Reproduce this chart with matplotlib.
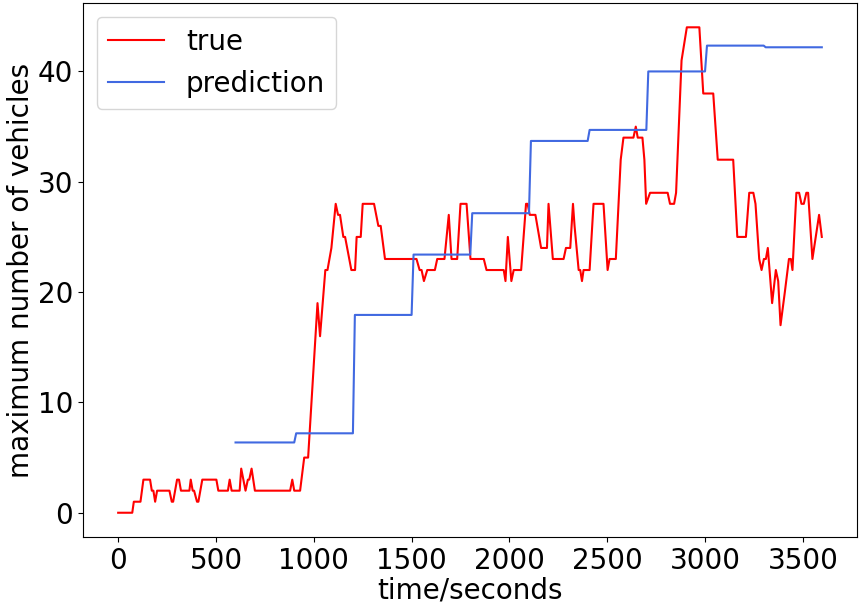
import numpy as np
import matplotlib
matplotlib.use("Agg")
import matplotlib.pyplot as plt

# true max number of vehicles (breakpoints)
true_t = [0, 72, 80, 114, 129, 163, 172, 180, 189, 199, 262, 274, 281, 301, 311,
          321, 364, 371, 381, 388, 403, 410, 430, 502, 512, 561, 570, 580, 621,
          629, 651, 663, 670, 682, 699, 879, 890, 900, 930, 951, 971,
          1019, 1032, 1059, 1070, 1090, 1112, 1124, 1134, 1151, 1160, 1192, 1211,
          1219, 1240, 1250, 1308, 1330, 1342, 1364, 1525, 1541, 1551, 1563, 1580,
          1619, 1631, 1668, 1690, 1704, 1733, 1750, 1781, 1801, 1869, 1883, 1971,
          1980, 1992, 2010, 2022, 2060, 2085, 2093, 2104, 2133, 2162, 2192, 2200,
          2222, 2277, 2289, 2311, 2325, 2333, 2354, 2362, 2371, 2379, 2410, 2430,
          2481, 2502, 2512, 2544, 2569, 2583, 2634, 2646, 2656, 2680, 2690, 2699,
          2719, 2809, 2821, 2842, 2852, 2880, 2907, 2971, 2991, 3042, 3065, 3144,
          3165, 3209, 3226, 3247, 3258, 3277, 3289, 3301, 3311, 3321, 3343, 3362,
          3374, 3386, 3408, 3429, 3439, 3447, 3467, 3481, 3493, 3505, 3518, 3527,
          3549, 3583, 3597]
true_v = [0, 0, 1, 1, 3, 3, 2, 2, 1, 2, 2, 1, 1, 3, 3,
          2, 2, 3, 2, 2, 1, 1, 3, 3, 2, 2, 3, 2, 2,
          4, 2, 3, 3, 4, 2, 2, 3, 2, 2, 5, 5,
          19, 16, 22, 22, 24, 28, 27, 27, 25, 25, 22, 22,
          25, 25, 28, 28, 26, 26, 23, 23, 22, 22, 21, 22,
          22, 23, 23, 27, 23, 23, 28, 28, 23, 23, 22, 22,
          21, 25, 21, 22, 22, 28, 28, 27, 27, 24, 24, 28,
          23, 23, 24, 24, 28, 26, 22, 22, 21, 22, 22, 28,
          28, 22, 23, 23, 32, 34, 34, 35, 34, 34, 32, 28,
          29, 29, 28, 28, 29, 41, 44, 44, 38, 38, 32, 32,
          25, 25, 29, 29, 28, 23, 22, 23, 23, 24, 19, 22,
          21, 17, 20, 23, 23, 22, 29, 29, 28, 28, 29, 29,
          23, 27, 25]

# prediction: one value per 300 s window
pred_edges = [600, 900, 1200, 1500, 1800, 2100, 2400, 2700, 3000, 3300, 3597]
pred_values = [6.37, 7.2, 17.93, 23.4, 27.15, 33.7, 34.7, 40.0, 42.34, 42.19]

pred_t = []
pred_v = []
for i in range(len(pred_values)):
    start = pred_edges[i] if i == 0 else pred_edges[i] + 10
    pred_t += [start, pred_edges[i + 1]]
    pred_v += [pred_values[i], pred_values[i]]

fig = plt.figure(figsize=(8.6, 6.07), dpi=100)
ax = fig.add_axes([0.0965, 0.1153, 0.9, 0.8797])

ax.plot(true_t, true_v, color="red", label="true")
ax.plot(pred_t, pred_v, color="royalblue", label="prediction")

ax.set_xlabel("time/seconds", fontsize=20, labelpad=1)
ax.set_ylabel("maximum number of vehicles", fontsize=20, labelpad=2)
ax.tick_params(labelsize=20)
ax.legend(loc="upper left", fontsize=20)

plt.savefig("out.png", dpi=100)
